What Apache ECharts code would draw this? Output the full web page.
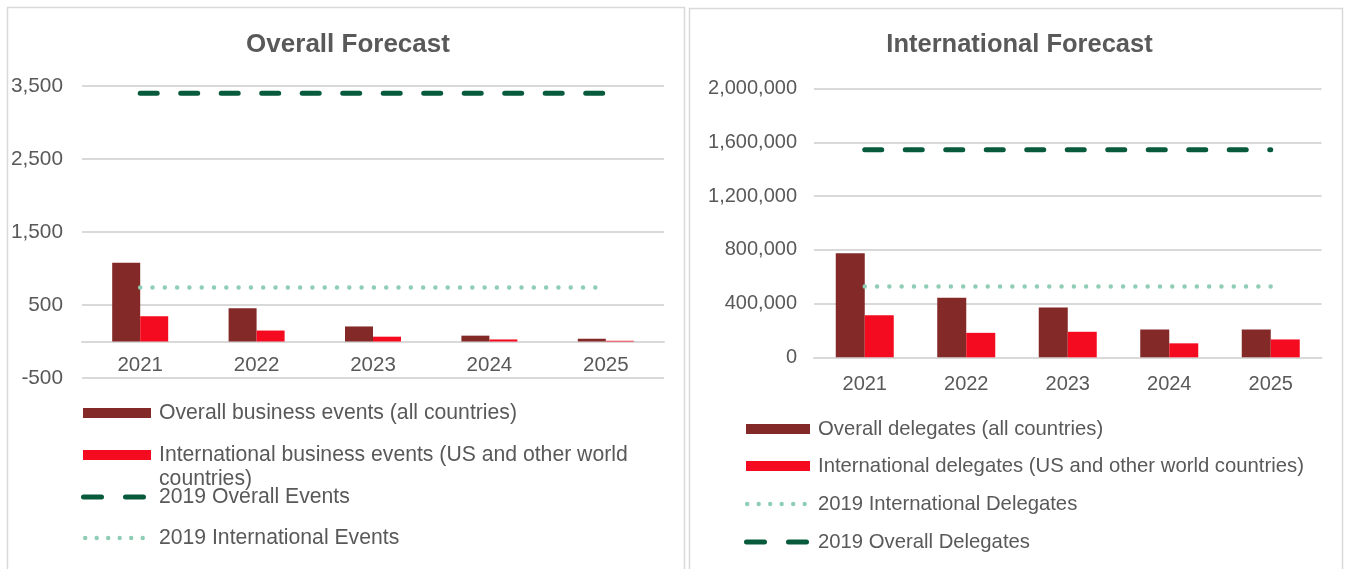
<!DOCTYPE html>
<html>
<head>
<meta charset="utf-8">
<script src="https://cdn.jsdelivr.net/npm/echarts@6/dist/echarts.min.js"></script>
<style>
html,body{margin:0;padding:0;background:#fff;}
#c{width:1346px;height:569px;}
</style>
</head>
<body>
<div id="c"></div>
<script>
// ---- data ----
const years = ['2021', '2022', '2023', '2024', '2025'];

// Overall Forecast (events)
const overallEvents = [1080, 454, 206, 80, 38];
const intlEvents = [346, 150, 66, 28, 10];
const overallEvents2019 = [3400, 3400, 3400, 3400, 3400];
const intlEvents2019 = [740, 740, 740, 740, 740];
const leftTicks = { min: -500, max: 3500, interval: 1000 };

// International Forecast (delegates)
const overallDelegates = [775000, 444000, 370000, 207000, 207000];
const intlDelegates = [313000, 182000, 190000, 104000, 133000];
const intlDelegates2019 = [528000, 528000, 528000, 528000, 528000];
const overallDelegates2019 = [1545000, 1545000, 1545000, 1545000, 1545000];
const rightTicks = { min: 0, max: 2000000, interval: 400000 };

const names = {
  oe: 'Overall business events (all countries)',
  ie: 'International business events (US and other world countries)',
  oe19: '2019 Overall Events',
  ie19: '2019 International Events',
  od: 'Overall delegates (all countries)',
  id: 'International delegates (US and other world countries)',
  id19: '2019 International Delegates',
  od19: '2019 Overall Delegates'
};

// ---- style ----
const FONT = '"Liberation Sans", Arial, sans-serif';
const TXT = '#595959';
const GRID = '#d9d9d9';
const DARK = '#832927';
const RED = '#F40B1F';
const GREEN = '#075A3B';
const MINT = '#8FCDB5';

const dashStyle = { color: GREEN, width: 5, type: [17, 23.5], cap: 'round' };
const dotStyle = { color: MINT, width: 4.5, type: [0, 12.3], cap: 'round' };

// legend icon shapes (style only)
function rr(x0, x1, h) {
  const r = h / 2;
  return 'M' + (x0 + r) + ',0 L' + (x1 - r) + ',0 A' + r + ',' + r + ' 0 0 1 ' + (x1 - r) + ',' + h +
    ' L' + (x0 + r) + ',' + h + ' A' + r + ',' + r + ' 0 0 1 ' + (x0 + r) + ',0 Z';
}
const DASH_ICON = 'path://' + rr(0, 23, 5) + ' ' + rr(42, 65, 5);
let dots = '';
for (let i = 0; i < 6; i++) {
  const cx = 2.2 + i * 11.5, r = 2.2;
  dots += 'M' + (cx - r) + ',' + r + ' A' + r + ',' + r + ' 0 1 0 ' + (cx + r) + ',' + r +
    ' A' + r + ',' + r + ' 0 1 0 ' + (cx - r) + ',' + r + ' Z ';
}
const DOT_ICON = 'path://' + dots;

function fmt(v) { return Number(v).toLocaleString('en-US'); }

function yAxis(gi, t, margin, fs) {
  return {
    type: 'value', gridIndex: gi, min: t.min, max: t.max, interval: t.interval,
    axisLine: { show: false }, axisTick: { show: false },
    axisLabel: { color: TXT, fontSize: fs, fontFamily: FONT, margin: margin, formatter: fmt },
    splitLine: { lineStyle: { color: GRID, width: 2 } }
  };
}
function xAxis(gi, margin, fs) {
  return {
    type: 'category', gridIndex: gi, data: years,
    axisLine: { onZero: true, lineStyle: { color: GRID, width: 2 } },
    axisTick: { show: false },
    axisLabel: { color: TXT, fontSize: fs, fontFamily: FONT, margin: margin }
  };
}
const LTXT_L = { color: TXT, fontSize: 21.2, fontFamily: FONT, lineHeight: 24 };
const LTXT_R = { color: TXT, fontSize: 20.3, fontFamily: FONT, lineHeight: 24 };
function legend(name, icon, left, top, w, h, pad, base, extra) {
  return Object.assign({
    data: [{ name: name, icon: icon }], left: left, top: top, orient: 'vertical',
    itemWidth: w, itemHeight: h, padding: 0, itemGap: 0,
    textStyle: Object.assign({ padding: [0, 0, 0, pad] }, base),
    selectedMode: false
  }, extra || {});
}

const option = {
  animation: false,
  backgroundColor: '#fff',
  graphic: [
    { type: 'rect', shape: { x: 7.5, y: 7.5, width: 677, height: 620 }, style: { fill: 'none', stroke: GRID, lineWidth: 1.5 }, silent: true },
    { type: 'rect', shape: { x: 689.5, y: 8.5, width: 653, height: 620 }, style: { fill: 'none', stroke: GRID, lineWidth: 1.5 }, silent: true }
  ],
  title: [
    { text: 'Overall Forecast', left: 343, top: 26.5, textAlign: 'center',
      textStyle: { color: TXT, fontSize: 26, fontWeight: 'bold', fontFamily: FONT } },
    { text: 'International Forecast', left: 1014.5, top: 26.5, textAlign: 'center',
      textStyle: { color: TXT, fontSize: 25.5, fontWeight: 'bold', fontFamily: FONT } }
  ],
  grid: [
    { left: 82, right: 682, top: 86, bottom: 191 },
    { left: 814, right: 24.5, top: 88.7, bottom: 211.7 }
  ],
  xAxis: [xAxis(0, -23, 20.5), xAxis(1, 17, 20)],
  yAxis: [yAxis(0, leftTicks, 19, 20.8), yAxis(1, rightTicks, 17, 20)],
  legend: [
    legend(names.oe, 'rect', 83, 401, 68, 10, 3, LTXT_L),
    legend(names.ie, 'rect', 83, 419, 68, 10, 3, LTXT_L, {
      formatter: n => '\n' + n.replace('world countries)', 'world\ncountries)')
    }),
    legend(names.oe19, DASH_ICON, 81, 485, 65, 5, 8, LTXT_L),
    legend(names.ie19, DOT_ICON, 83, 526, 62, 4.4, 9, LTXT_L),
    legend(names.od, 'rect', 746, 417, 64, 10, 3, LTXT_R),
    legend(names.id, 'rect', 746, 454, 64, 10, 3, LTXT_R),
    legend(names.id19, DOT_ICON, 745, 492, 62, 4.4, 6, LTXT_R),
    legend(names.od19, DASH_ICON, 744, 530, 65, 5, 4, LTXT_R)
  ],
  series: [
    { name: names.oe, type: 'bar', xAxisIndex: 0, yAxisIndex: 0, data: overallEvents, barWidth: 28, barGap: '0%', itemStyle: { color: DARK } },
    { name: names.ie, type: 'bar', xAxisIndex: 0, yAxisIndex: 0, data: intlEvents, barWidth: 28, barGap: '0%', itemStyle: { color: RED } },
    { name: names.oe19, type: 'line', xAxisIndex: 0, yAxisIndex: 0, data: overallEvents2019, symbol: 'none', lineStyle: dashStyle, itemStyle: { color: GREEN } },
    { name: names.ie19, type: 'line', xAxisIndex: 0, yAxisIndex: 0, data: intlEvents2019, symbol: 'none', lineStyle: dotStyle, itemStyle: { color: MINT } },

    { name: names.od, type: 'bar', xAxisIndex: 1, yAxisIndex: 1, data: overallDelegates, barWidth: 29, barGap: '0%', itemStyle: { color: DARK } },
    { name: names.id, type: 'bar', xAxisIndex: 1, yAxisIndex: 1, data: intlDelegates, barWidth: 29, barGap: '0%', itemStyle: { color: RED } },
    { name: names.id19, type: 'line', xAxisIndex: 1, yAxisIndex: 1, data: intlDelegates2019, symbol: 'none', lineStyle: dotStyle, itemStyle: { color: MINT } },
    { name: names.od19, type: 'line', xAxisIndex: 1, yAxisIndex: 1, data: overallDelegates2019, symbol: 'none', lineStyle: dashStyle, itemStyle: { color: GREEN } }
  ]
};

const chart = echarts.init(document.getElementById('c'), null, { renderer: 'canvas' });
chart.setOption(option);
</script>
</body>
</html>
